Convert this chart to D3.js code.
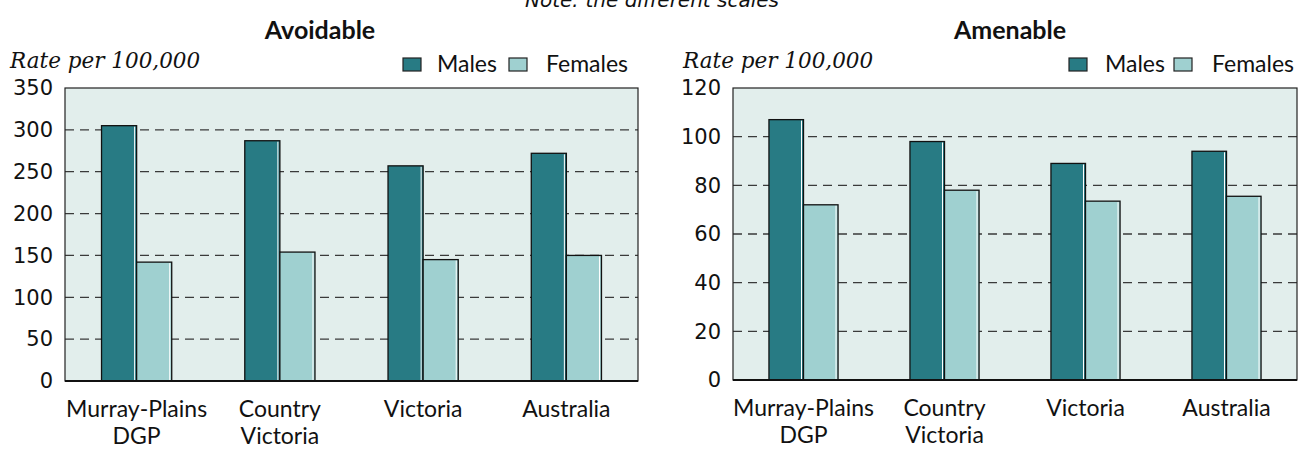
<!DOCTYPE html>
<html>
<head>
<meta charset="utf-8">
<script src="https://cdn.jsdelivr.net/npm/d3@7/dist/d3.min.js"></script>
<style>
  body { margin: 0; background: #fff; }
  svg { display: block; }
  .tick-lbl { font-family: "DejaVu Sans", sans-serif; font-size: 21px; fill: #111; }
  .cat-lbl { font-family: Lato, "DejaVu Sans", sans-serif; font-size: 23px; fill: #111; }
  .title { font-family: Lato, "DejaVu Sans", sans-serif; font-size: 25px; font-weight: bold; fill: #111; }
  .unit { font-family: "DejaVu Serif", serif; font-style: italic; font-size: 21.5px; fill: #111; }
  .note { font-family: "DejaVu Sans", sans-serif; font-style: italic; font-size: 20px; fill: #111; }
  .legend { font-family: Lato, "DejaVu Sans", sans-serif; font-size: 23px; fill: #111; }
</style>
</head>
<body>
<div id="chart"></div>
<script>
const categories = [['Murray-Plains', 'DGP'], ['Country', 'Victoria'], ['Victoria'], ['Australia']];
const series = ['Males', 'Females'];
const avoidableMales = [305, 287, 257, 272];
const avoidableFemales = [142, 154, 145, 150];
const amenableMales = [107, 98, 89, 94];
const amenableFemales = [72, 78, 73.5, 75.5];
const avoidableTicks = [0, 50, 100, 150, 200, 250, 300, 350];
const amenableTicks = [0, 20, 40, 60, 80, 100, 120];

const colors = { Males: '#287b84', Females: '#9fd0d0' };
const W = 1299, H = 449;

const svg = d3.select('#chart').append('svg')
  .attr('width', W)
  .attr('height', H);

// note along the top (cut off in the original too)
svg.append('text')
  .attr('class', 'note')
  .attr('x', 652)
  .attr('y', 7)
  .attr('text-anchor', 'middle')
  .text('Note: the different scales');

function drawPanel(opts) {
  const { left, right, top, bottom, title, titleX, males, females, ticks, unitX, legend } = opts;
  const g = svg.append('g');
  const keys = categories.map((c, i) => i);

  const x = d3.scaleBand()
    .domain(keys)
    .range([left, right]);

  const y = d3.scaleLinear()
    .domain([0, d3.max(ticks)])
    .range([bottom, top]);

  // Plot background
  g.append('rect')
    .attr('x', left)
    .attr('y', top)
    .attr('width', right - left)
    .attr('height', bottom - top)
    .attr('fill', '#e2eeec');

  // Dashed gridlines
  g.selectAll('line.grid')
    .data(ticks.filter(t => t > 0 && t < d3.max(ticks)))
    .enter()
    .append('line')
    .attr('class', 'grid')
    .attr('x1', left)
    .attr('x2', right)
    .attr('y1', d => y(d))
    .attr('y2', d => y(d))
    .attr('stroke', '#3a3a3a')
    .attr('stroke-width', 1.3)
    .attr('stroke-dasharray', '9,6');

  // Bars
  const bw = x.bandwidth() * 0.245;
  const data = [];
  keys.forEach(i => {
    data.push({ i, s: 'Males', v: males[i] });
    data.push({ i, s: 'Females', v: females[i] });
  });

  const bars = g.selectAll('g.bar')
    .data(data)
    .enter()
    .append('g')
    .attr('class', 'bar');

  const bx = d => x(d.i) + x.bandwidth() / 2 + (d.s === 'Males' ? -bw : 0);

  bars.append('rect')
    .attr('x', bx)
    .attr('y', d => y(d.v))
    .attr('width', bw)
    .attr('height', d => bottom - y(d.v))
    .attr('fill', d => colors[d.s])
    .attr('stroke', '#111')
    .attr('stroke-width', 1.3);

  // light highlight inside right edge
  bars.append('line')
    .attr('x1', d => bx(d) + bw - 2)
    .attr('x2', d => bx(d) + bw - 2)
    .attr('y1', d => y(d.v) + 1)
    .attr('y2', bottom - 1)
    .attr('stroke', '#fff')
    .attr('stroke-width', 1);

  // Frame
  g.append('rect')
    .attr('x', left)
    .attr('y', top)
    .attr('width', right - left)
    .attr('height', bottom - top)
    .attr('fill', 'none')
    .attr('stroke', '#222')
    .attr('stroke-width', 1.2);

  g.append('line')
    .attr('x1', left)
    .attr('x2', right)
    .attr('y1', bottom)
    .attr('y2', bottom)
    .attr('stroke', '#111')
    .attr('stroke-width', 2);

  // Y axis labels
  const yAxis = d3.axisLeft(y).tickValues(ticks).tickSize(0).tickPadding(12);
  const ya = g.append('g')
    .attr('transform', `translate(${left},0)`)
    .call(yAxis);
  ya.select('.domain').remove();
  ya.selectAll('text')
    .attr('class', 'tick-lbl')
    .attr('fill', null)
    .attr('font-size', null)
    .attr('font-family', null);

  // Category labels
  const xa = g.append('g');
  keys.forEach(i => {
    const t = xa.append('text')
      .attr('class', 'cat-lbl')
      .attr('text-anchor', 'middle')
      .attr('x', x(i) + x.bandwidth() / 2)
      .attr('y', bottom + 36);
    categories[i].forEach((line, j) => {
      t.append('tspan')
        .attr('x', x(i) + x.bandwidth() / 2)
        .attr('dy', j === 0 ? 0 : 27)
        .text(line);
    });
  });

  // Title
  g.append('text')
    .attr('class', 'title')
    .attr('x', titleX)
    .attr('y', 39)
    .attr('text-anchor', 'middle')
    .text(title);

  // Unit label
  g.append('text')
    .attr('class', 'unit')
    .attr('x', unitX)
    .attr('y', 68)
    .text('Rate per 100,000');

  // Legend
  series.forEach((s, k) => {
    const [sx, tx] = legend[k];
    g.append('rect')
      .attr('x', sx)
      .attr('y', 58)
      .attr('width', 18)
      .attr('height', 13)
      .attr('fill', colors[s])
      .attr('stroke', '#222')
      .attr('stroke-width', 1.2);
    g.append('text')
      .attr('class', 'legend')
      .attr('x', tx)
      .attr('y', 72)
      .text(s);
  });
}

drawPanel({
  left: 65, right: 638, top: 88, bottom: 381,
  title: 'Avoidable', titleX: 320,
  males: avoidableMales, females: avoidableFemales,
  ticks: avoidableTicks, unitX: 10,
  legend: [[403, 437], [509, 546]]
});

drawPanel({
  left: 733, right: 1297, top: 88, bottom: 380,
  title: 'Amenable', titleX: 1010,
  males: amenableMales, females: amenableFemales,
  ticks: amenableTicks, unitX: 683,
  legend: [[1069, 1105], [1174, 1212]]
});
</script>
</body>
</html>
